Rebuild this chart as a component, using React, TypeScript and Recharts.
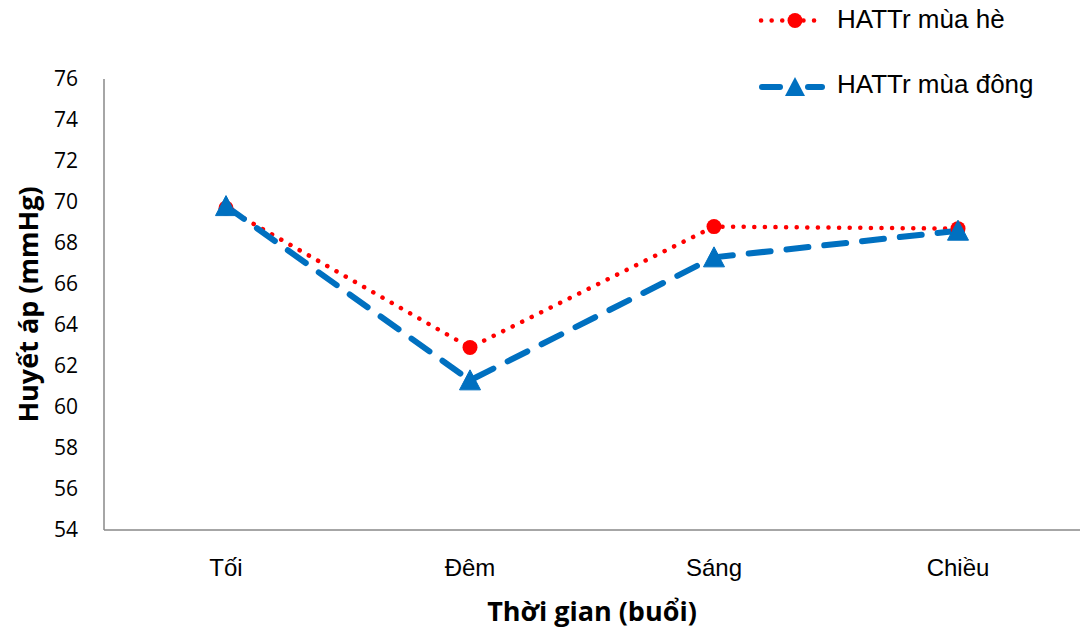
import React from "react";
import { LineChart, Line, XAxis, YAxis } from "recharts";

const categories = ["Tối", "Đêm", "Sáng", "Chiều"];
const summerValues = [69.7, 62.9, 68.8, 68.7];
const winterValues = [69.8, 61.3, 67.3, 68.6];
const yTicks = [54, 56, 58, 60, 62, 64, 66, 68, 70, 72, 74, 76];
const seriesNames = ["HATTr mùa hè", "HATTr mùa đông"];

const RED = "#FF0000";
const BLUE = "#0070C0";
const Y_TICK_FONT = "'Open Sans', sans-serif";
const X_TICK_FONT = "'Liberation Sans', Arial, sans-serif";
const LABEL_FONT = "'Open Sans', sans-serif";
const LEGEND_FONT = "'Liberation Sans', Arial, sans-serif";

const data = categories.map((c, i) => ({
  name: c,
  summer: summerValues[i],
  winter: winterValues[i],
}));

const TriangleDot = (props: any) => {
  const { cx, cy } = props;
  if (cx == null || cy == null) return null;
  const w = 21;
  const h = 19;
  return (
    <polygon
      points={`${cx},${cy - h / 2 - 1} ${cx - w / 2},${cy + h / 2} ${cx + w / 2},${cy + h / 2}`}
      fill={BLUE}
      stroke={BLUE}
      strokeWidth={1}
      strokeLinejoin="round"
    />
  );
};

const ChartLegend = () => (
  <div style={{ position: "absolute", left: 756, top: 0, width: 324, height: 110 }}>
    <svg width={80} height={110} style={{ position: "absolute", left: 0, top: 0 }}>
      <line x1={5} y1={20.5} x2={66} y2={20.5} stroke={RED} strokeWidth={4.5}
        strokeDasharray="0.1 10.5" strokeLinecap="round" />
      <circle cx={39} cy={20.5} r={7.5} fill={RED} />
      <line x1={6} y1={87} x2={24} y2={87} stroke={BLUE} strokeWidth={6} strokeLinecap="round" />
      <line x1={52} y1={87} x2={66} y2={87} stroke={BLUE} strokeWidth={6} strokeLinecap="round" />
      <polygon points="39,77 29,96 49,96" fill={BLUE} />
    </svg>
    <div style={{ position: "absolute", left: 81, top: 4, fontFamily: LEGEND_FONT, fontSize: 26, lineHeight: "30px", color: "#000", whiteSpace: "nowrap" }}>
      {seriesNames[0]}
    </div>
    <div style={{ position: "absolute", left: 81, top: 69, fontFamily: LEGEND_FONT, fontSize: 26, lineHeight: "30px", color: "#000", whiteSpace: "nowrap" }}>
      {seriesNames[1]}
    </div>
  </div>
);

export default function App() {
  return (
    <div style={{ position: "absolute", left: 0, top: 0, width: 1080, height: 632, background: "#fff" }}>
      <LineChart
        width={1080}
        height={632}
        data={data}
        margin={{ top: 79, right: 0, bottom: 0, left: 0 }}
      >
        <XAxis
          dataKey="name"
          padding={{ left: 122, right: 122 }}
          axisLine={{ stroke: "#898989", strokeWidth: 1.5 }}
          tickLine={false}
          tick={{ fill: "#000", fontFamily: X_TICK_FONT, fontSize: 24 }}
          tickMargin={23}
          height={102}
          label={{
            value: "Thời gian (buổi)",
            position: "insideBottom",
            offset: 11,
            style: { fontFamily: LABEL_FONT, fontSize: 27, fontWeight: 700, fill: "#000" },
          }}
        />
        <YAxis
          domain={[54, 76]}
          ticks={yTicks}
          interval={0}
          width={104}
          axisLine={{ stroke: "#898989", strokeWidth: 1.5 }}
          tickLine={false}
          tick={{ fill: "#000", fontFamily: Y_TICK_FONT, fontSize: 21 }}
          tickMargin={20}
          label={{
            value: "Huyết áp (mmHg)",
            angle: -90,
            position: "insideLeft",
            offset: 28,
            style: { fontFamily: LABEL_FONT, fontSize: 27, fontWeight: 700, fill: "#000", textAnchor: "middle" },
          }}
        />
        <Line
          name={seriesNames[0]}
          dataKey="summer"
          stroke={RED}
          strokeWidth={4.5}
          strokeDasharray="0.1 10.5"
          strokeLinecap="round"
          dot={{ r: 7.5, fill: RED, stroke: RED, strokeWidth: 0, strokeDasharray: "" }}
          isAnimationActive={false}
        />
        <Line
          name={seriesNames[1]}
          dataKey="winter"
          stroke={BLUE}
          strokeWidth={6}
          strokeDasharray="22 16"
          strokeLinecap="round"
          dot={<TriangleDot />}
          isAnimationActive={false}
        />
      </LineChart>
      <ChartLegend />
    </div>
  );
}
